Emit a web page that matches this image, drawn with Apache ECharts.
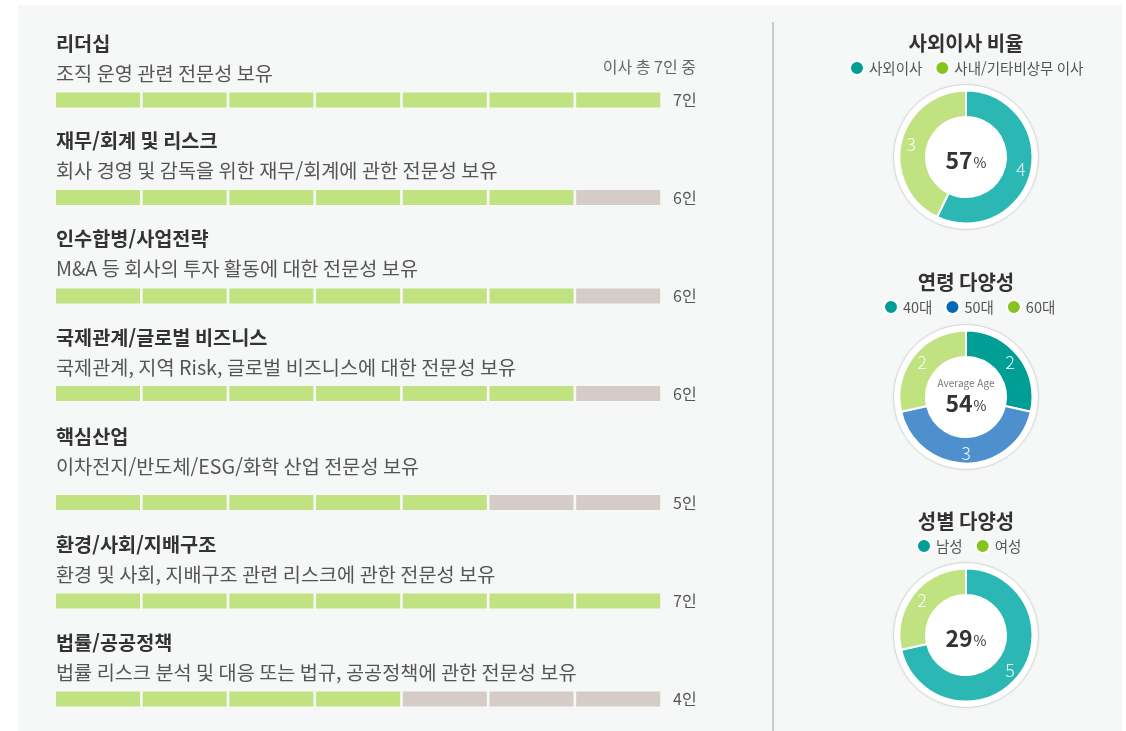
<!DOCTYPE html>
<html lang="ko">
<head>
<meta charset="utf-8">
<title>이사회 구성</title>
<script src="https://cdn.jsdelivr.net/npm/echarts@6/dist/echarts.min.js"></script>
<style>
  html, body { margin: 0; padding: 0; background: #ffffff; }
  #chart { width: 1126px; height: 731px; }
</style>
</head>
<body>
<div id="chart"></div>
<script>
// ---- 이사회 전문성 (Board skills) ----
const skillTitles = ['리더십', '재무/회계 및 리스크', '인수합병/사업전략', '국제관계/글로벌 비즈니스', '핵심산업', '환경/사회/지배구조', '법률/공공정책'];
const skillDescs = [
  '조직 운영 관련 전문성 보유',
  '회사 경영 및 감독을 위한 재무/회계에 관한 전문성 보유',
  'M&A 등 회사의 투자 활동에 대한 전문성 보유',
  '국제관계, 지역 Risk, 글로벌 비즈니스에 대한 전문성 보유',
  '이차전지/반도체/ESG/화학 산업 전문성 보유',
  '환경 및 사회, 지배구조 관련 리스크에 관한 전문성 보유',
  '법률 리스크 분석 및 대응 또는 법규, 공공정책에 관한 전문성 보유'
];
const skillCounts = [7, 6, 6, 6, 5, 7, 4];
const boardSeats = ['1', '2', '3', '4', '5', '6', '7'];
const totalNote = '이사 총 7인 중';

// ---- 이사회 다양성 (donuts) ----
const outsideTitle = '사외이사 비율';
const outsideNames = ['사외이사', '사내/기타비상무 이사'];
const outsideValues = [4, 3];

const ageTitle = '연령 다양성';
const ageNames = ['40대', '50대', '60대'];
const ageValues = [2, 3, 2];
const ageCaption = 'Average Age';
const ageCenterValue = 54;

const genderTitle = '성별 다양성';
const genderNames = ['남성', '여성'];
const genderValues = [5, 2];

// ---- styling / layout ----
const FONT = '"Noto Sans CJK KR", "Noto Sans", sans-serif';
const GREEN = '#c0e281';
const GRAY = '#d5ccc7';
const TEAL = '#2bb8b4';
const TEAL_DARK = '#009e95';
const BLUE = '#4e8fcd';
const LEG_TEAL = '#009e96';
const LEG_BLUE = '#0068b7';
const LEG_GREEN = '#86c31e';

const rowTitleY = [44, 141, 239, 338, 437, 545, 643];
const rowBarY = [100, 197.5, 296, 393.5, 502.5, 601, 699];
const barLeft = 54.65, barBand = 86.7, barH = 15;
const TEXT_Z = 100;

const chart = echarts.init(document.getElementById('chart'), null, { renderer: 'canvas' });

const grids = [], xAxes = [], yAxes = [], series = [], graphics = [];

// panel background and divider
graphics.push({ type: 'rect', z: -10, silent: true, shape: { x: 18, y: 5, width: 1104, height: 726 }, style: { fill: '#f6f8f7' } });
graphics.push({ type: 'rect', z: -5, silent: true, shape: { x: 772, y: 22, width: 2, height: 709 }, style: { fill: '#cccccc' } });

graphics.push({
  type: 'text', silent: true, z: TEXT_Z,
  style: { text: totalNote, x: 696, y: 67, align: 'right', verticalAlign: 'middle', font: '16px ' + FONT, fill: '#666666' }
});

skillTitles.forEach((title, i) => {
  graphics.push({
    type: 'text', silent: true, z: TEXT_Z,
    style: { text: title, x: 56, y: rowTitleY[i], verticalAlign: 'middle', font: 'bold 19.7px ' + FONT, fill: '#333333' }
  });
  graphics.push({
    type: 'text', silent: true, z: TEXT_Z,
    style: { text: skillDescs[i], x: 56, y: rowTitleY[i] + 29.5, verticalAlign: 'middle', font: '19.7px ' + FONT, fill: '#555555' }
  });
  graphics.push({
    type: 'text', silent: true, z: TEXT_Z,
    style: { text: skillCounts[i] + '인', x: 673, y: rowBarY[i], verticalAlign: 'middle', font: '16px ' + FONT, fill: '#555555' }
  });

  grids.push({ left: barLeft, top: rowBarY[i] - barH / 2, width: barBand * boardSeats.length, height: barH, containLabel: false });
  xAxes.push({ type: 'category', gridIndex: i, data: boardSeats, show: false });
  yAxes.push({ type: 'value', gridIndex: i, min: 0, max: 1, show: false });
  series.push({
    type: 'bar', xAxisIndex: i, yAxisIndex: i, barWidth: 84, silent: true,
    data: boardSeats.map((s, k) => ({ value: 1, itemStyle: { color: k < skillCounts[i] ? GREEN : GRAY } })),
    animation: false
  });
});

// donut blocks
const donuts = [
  { title: outsideTitle, names: outsideNames, values: outsideValues, colors: [TEAL, GREEN], legendColors: [LEG_TEAL, LEG_GREEN], cy: 157, titleY: 43, legendLeft: 849, legendTop: 60, pctIndex: 0 },
  { title: ageTitle, names: ageNames, values: ageValues, colors: [TEAL_DARK, BLUE, GREEN], legendColors: [LEG_TEAL, LEG_BLUE, LEG_GREEN], cy: 397, titleY: 282, legendLeft: 883, legendTop: 299, caption: ageCaption, center: ageCenterValue },
  { title: genderTitle, names: genderNames, values: genderValues, colors: [TEAL, GREEN], legendColors: [LEG_TEAL, LEG_GREEN], cy: 635, titleY: 521, legendLeft: 916, legendTop: 538, pctIndex: 1 }
];
const CX = 966;

const legends = [];

donuts.forEach((d, i) => {
  const total = d.values.reduce((a, b) => a + b, 0);
  const centerPct = d.center != null ? d.center : Math.round(d.values[d.pctIndex] / total * 100);

  graphics.push({
    type: 'text', silent: true, z: TEXT_Z,
    style: { text: d.title, x: CX, y: d.titleY, align: 'center', verticalAlign: 'middle', font: 'bold 20px ' + FONT, fill: '#333333' }
  });

  legends.push({
    left: d.legendLeft, top: d.legendTop, orient: 'horizontal', icon: 'circle', padding: 0,
    itemWidth: 14, itemHeight: 14, itemGap: 12,
    textStyle: { fontFamily: FONT, fontSize: 14.5, color: '#555555' },
    selectedMode: false,
    data: d.names.map((n, k) => ({ name: n, itemStyle: { color: d.legendColors[k] } }))
  });

  // white plate with thin rim behind each donut
  series.push({
    type: 'pie', silent: true, center: [CX, d.cy], radius: [0, 72.5], z: 1,
    label: { show: false }, labelLine: { show: false }, legendHoverLink: false,
    data: [{ value: 1, name: '_plate' + i, itemStyle: { color: '#ffffff', borderColor: '#d9d9d9', borderWidth: 1, shadowBlur: 3, shadowColor: 'rgba(0,0,0,0.06)' } }],
    animation: false
  });

  series.push({
    type: 'pie', center: [CX, d.cy], radius: [40, 66.5], startAngle: 90, clockwise: true, z: 2,
    avoidLabelOverlap: false,
    itemStyle: { borderColor: '#ffffff', borderWidth: 2 },
    label: { show: true, position: 'inside', formatter: '{c}', fontFamily: FONT, fontSize: 18, fontWeight: 300, color: 'rgba(255,255,255,0.9)' },
    labelLine: { show: false },
    emphasis: { disabled: true },
    data: d.names.map((n, k) => ({ name: n, value: d.values[k], itemStyle: { color: d.colors[k] } })),
    animation: false
  });

  if (d.caption) {
    graphics.push({
      type: 'text', silent: true, z: TEXT_Z,
      style: { text: d.caption, x: CX, y: d.cy - 14, align: 'center', verticalAlign: 'middle', font: '10px ' + FONT, fill: '#777777' }
    });
  }
  graphics.push({
    type: 'text', silent: true, z: TEXT_Z,
    style: {
      text: '{n|' + centerPct + '}{p|%}', x: CX, y: d.cy + (d.caption ? 6 : 3), align: 'center', verticalAlign: 'middle',
      rich: {
        n: { fontFamily: FONT, fontSize: 23, fontWeight: 'bold', fill: '#333333' },
        p: { fontFamily: FONT, fontSize: 14, fill: '#333333', padding: [5, 0, 0, 1] }
      }
    }
  });
});

chart.setOption({
  backgroundColor: '#ffffff',
  animation: false,
  grid: grids,
  xAxis: xAxes,
  yAxis: yAxes,
  legend: legends,
  series: series,
  graphic: graphics
});
</script>
</body>
</html>
